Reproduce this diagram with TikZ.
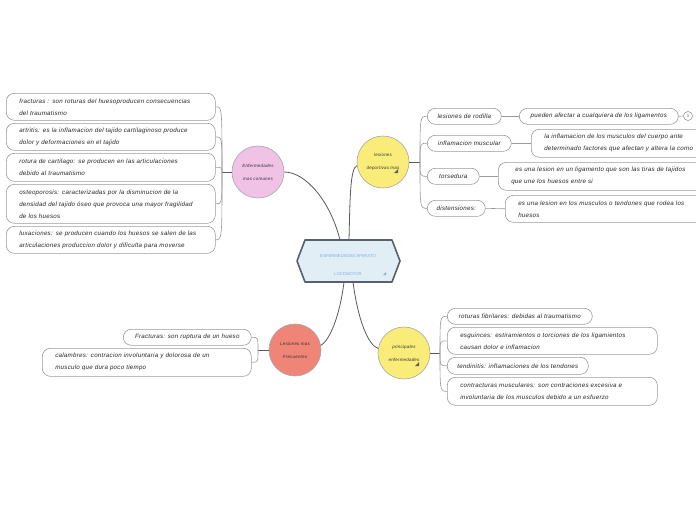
\documentclass[tikz,border=0pt]{standalone}
\usepackage{fontspec}
\setmainfont{Liberation Sans}
\newfontfamily\boxfont[LetterSpace=4]{Liberation Sans}
\begin{document}
\begin{tikzpicture}[x=1pt,y=-1pt]
\definecolor{boxgray}{HTML}{9A9A9A}
\definecolor{linegray}{HTML}{555A5E}
\definecolor{hubfill}{HTML}{E2EEF5}
\definecolor{hubline}{HTML}{56616B}
\definecolor{hubtext}{HTML}{7FB0DA}
\definecolor{pinkc}{HTML}{F0C2E6}
\definecolor{yelc}{HTML}{FAEC78}
\definecolor{redc}{HTML}{EE8577}
\definecolor{circline}{HTML}{A8A8A8}
\tikzset{
  box/.style={draw=boxgray, fill=white, rounded corners=8pt, line width=0.6pt,
    font=\boxfont\fontsize{6.2}{12}\selectfont\itshape, inner ysep=0pt, anchor=north west, text=black!85},
  twoline/.style={align=left, inner xsep=13pt},
  oneline/.style={align=center, inner xsep=4pt},
  topic/.style={circle, draw=circline, line width=0.6pt, minimum size=52pt, inner sep=0pt,
    align=center, font=\boxfont\fontsize{4.5}{13}\selectfont\itshape, text=black!80},
  conn/.style={draw=linegray, line width=0.8pt},
  sub/.style={draw=boxgray, line width=0.6pt}
}
\clip (0,0) rectangle (696,520);
\fill[white] (0,0) rectangle (696,520);

% central hub
\coordinate (hL) at (297,261);
\coordinate (hTL) at (305,240);
\coordinate (hTR) at (392,240);
\coordinate (hR) at (400,261);
\coordinate (hBR) at (392,282);
\coordinate (hBL) at (305,282);
\draw[fill=hubfill, draw=hubline, line width=1.6pt, line join=round]
  (hL) -- (hTL) -- (hTR) -- (hR) -- (hBR) -- (hBL) -- cycle;
\node[font=\fontsize{4.2}{5}\selectfont, text=hubtext] (ht1) at (348,256) {ENFERMEDADES APARATO};
\node[font=\fontsize{4.2}{5}\selectfont, text=hubtext] (ht2) at (348,274) {LOCOMOTOR};
\fill[hubtext] (383,275) -- (386,272) -- (386,275) -- cycle;
\coordinate (hubA) at (340,240);
\coordinate (hubB) at (349,240);
\coordinate (hubC) at (344,282);
\coordinate (hubD) at (353,282);

% topic circles
\node[topic, fill=pinkc] (pink) at (258,172) {Enfermedades\\mas comunes};
\node[topic, fill=yelc] (les) at (383,162) {lesiones\\deportivas mas};
\node[topic, fill=redc] (red) at (295,350) {Lesiones mas\\Frecuentes};
\node[topic, fill=yelc] (prin) at (404,353) {principales\\enfermedades};
\fill[hubline] (394,173) -- (398,169) -- (398,173) -- cycle;
\fill[hubline] (415,366) -- (419,362) -- (419,366) -- cycle;

% hub to circles
\draw[conn] (hubA) .. controls (330,200) and (305,172) .. (pink.east);
\draw[conn] (hubB) .. controls (350,200) and (350,168) .. (les.188);
\draw[conn] (hubC) .. controls (340,315) and (330,340) .. (red.10);
\draw[conn] (hubD) .. controls (358,320) and (368,345) .. (prin.170);

% pink branch boxes
\node[box, twoline, minimum width=209pt, minimum height=27pt, text width=183pt] (p1) at (6,93)
  {fracturas : son roturas del huesoproducen consecuencias\\del traumatismo};
\node[box, twoline, minimum width=209pt, minimum height=27pt, text width=183pt] (p2) at (6,123)
  {artritis: es la inflamacion del tajido cartilaginoso produce\\dolor y deformaciones en el tajido};
\node[box, twoline, minimum width=209pt, minimum height=28pt, text width=183pt] (p3) at (6,153)
  {rotura de cartilago: se producen en las articulaciones\\debido al traumatismo};
\node[box, twoline, minimum width=209pt, minimum height=39pt, text width=183pt] (p4) at (6,184)
  {osteoporosis: caracterizadas por la disminucion de la\\densidad del tajido óseo que provoca una mayor fragilidad\\de los huesos};
\node[box, twoline, minimum width=209pt, minimum height=27pt, text width=183pt] (p5) at (6,226)
  {luxaciones: se producen cuando los huesos se salen de las\\articulaciones produccion dolor y dificulta para moverse};
\coordinate (pj) at (222,172);
\draw[conn] (pink.west) -- (pj);
\foreach \b in {p1,p2,p3,p4,p5}
  \draw[sub] (pj) .. controls (pj |- \b.east) .. (\b.east);

% lesiones branch boxes
\node[box, oneline, minimum width=74pt, minimum height=16pt] (r1) at (427,108) {lesiones de rodilla};
\node[box, oneline, minimum width=159pt, minimum height=16pt] (r1b) at (519,108) {pueden afectar a cualquiera de los ligamentos};
\node[box, oneline, minimum width=84pt, minimum height=16pt] (r2) at (427,135) {inflamacion muscular};
\node[box, twoline, minimum width=200pt, minimum height=28pt, text width=174pt] (r2b) at (531,129)
  {la inflamacion de los musculos del cuerpo ante\\determinado factores que afectan y altera la como};
\node[box, oneline, minimum width=52pt, minimum height=16pt] (r3) at (427,168) {torsedura};
\node[box, twoline, minimum width=210pt, minimum height=28pt, text width=184pt] (r3b) at (498,162)
  {\ \ es una lesion en un ligamento que son las tiras de tajidos\\que une los huesos entre si};
\node[box, oneline, minimum width=58pt, minimum height=16pt] (r4) at (427,200) {distensiones:};
\node[box, twoline, minimum width=210pt, minimum height=27pt, text width=184pt] (r4b) at (505,195)
  {es una lesion en los musculos o tendones que rodea los\\huesos};
\node[circle, draw=boxgray, line width=0.6pt, minimum size=9pt, inner sep=0pt,
  font=\fontsize{4.5}{5}\selectfont, text=black!60] (n1) at (688,116) {1};
\coordinate (lj) at (420,162);
\draw[conn] (les.east) -- (lj);
\foreach \b in {r1,r2,r3,r4}
  \draw[sub] (lj) .. controls (lj |- \b.west) .. (\b.west);
\draw[sub] (r1.east) -- (r1b.west);
\draw[sub] (r2.east) -- (r2b.west);
\draw[sub] (r3.east) -- (r3b.west);
\draw[sub] (r4.east) -- (r4b.west);
\draw[sub] (r1b.east) -- (n1.west);

% red branch boxes
\node[box, oneline, minimum width=128pt, minimum height=16pt] (f1) at (123,329) {Fracturas: son ruptura de un hueso};
\node[box, twoline, minimum width=209pt, minimum height=28pt, text width=183pt] (f2) at (42,348)
  {calambres: contracion involuntaria y dolorosa de un\\musculo que dura poco tiempo};
\coordinate (fj) at (258,350);
\draw[conn] (red.west) -- (fj);
\foreach \b in {f1,f2}
  \draw[sub] (fj) .. controls (fj |- \b.east) .. (\b.east);

% principales branch boxes
\node[box, oneline, minimum width=145pt, minimum height=16pt] (e1) at (447,308) {roturas fibrilares: debidas al traumatismo};
\node[box, twoline, minimum width=210pt, minimum height=27pt, text width=184pt] (e2) at (447,327)
  {esguinces: estiramientos o torciones de los ligamientos\\causan dolor e inflamacion};
\node[box, oneline, minimum width=141pt, minimum height=17pt] (e3) at (447,357) {tendinitis: inflamaciones de los tendones};
\node[box, twoline, minimum width=210pt, minimum height=28pt, text width=184pt] (e4) at (447,377)
  {contracturas musculares: son contraciones excesiva e\\involuntaria de los musculos debido a un esfuerzo};
\coordinate (ej) at (440,353);
\draw[conn] (prin.east) -- (ej);
\foreach \b in {e1,e2,e3,e4}
  \draw[sub] (ej) .. controls (ej |- \b.west) .. (\b.west);
\end{tikzpicture}
\end{document}
